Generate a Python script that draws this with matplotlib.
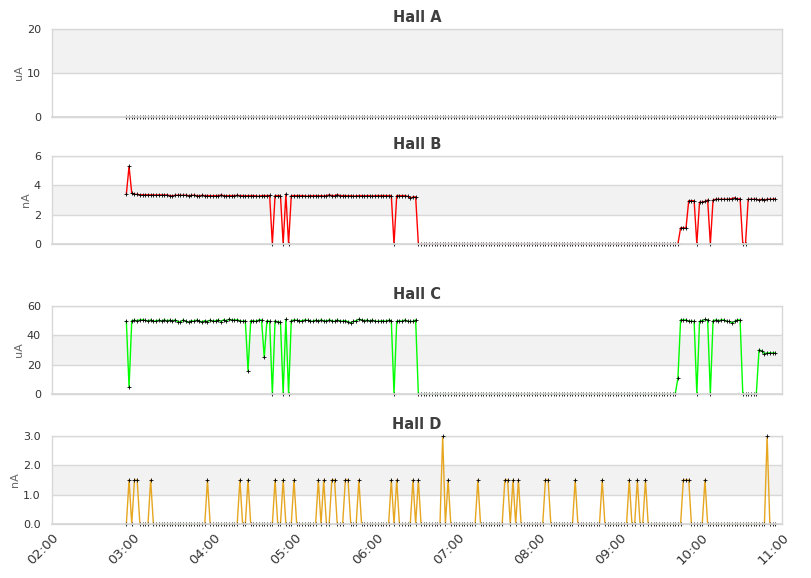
import matplotlib
matplotlib.use("Agg")
import matplotlib.pyplot as plt
import matplotlib.dates as mdates
import pandas as pd

# samples every 2 minutes, 02:55 -> 10:55
times = pd.date_range("2024-01-01 02:55", periods=241, freq="2min")

hall_a = [0.0] * 241

hall_b = ([3.4, 5.3, 3.45,
           3.40, 3.38, 3.36, 3.36, 3.35, 3.36, 3.35, 3.35, 3.34, 3.35,
           3.35, 3.34, 3.35, 3.30, 3.28, 3.32, 3.33, 3.33, 3.32, 3.33,
           3.30, 3.31, 3.33, 3.30, 3.28, 3.32, 3.30, 3.30, 3.30, 3.28,
           3.30, 3.30, 3.34, 3.30, 3.28, 3.30, 3.30, 3.30, 3.32, 3.30,
           3.30, 3.28, 3.30, 3.30, 3.30, 3.28, 3.25, 3.30, 3.30, 3.30, 3.31,
           0, 3.3, 3.3, 3.3, 0, 3.4, 0,
           3.30, 3.30, 3.30, 3.30, 3.30, 3.28, 3.26, 3.30, 3.28, 3.30,
           3.28, 3.30, 3.27, 3.30, 3.35, 3.30, 3.30, 3.36, 3.30, 3.30,
           3.30, 3.28, 3.30, 3.26, 3.28, 3.30, 3.30, 3.28, 3.30, 3.30,
           3.26, 3.30, 3.30, 3.30, 3.30, 3.30, 3.30, 3.30,
           0, 3.3, 3.3, 3.3, 3.3, 3.25, 3.15, 3.2, 3.22]
          + [0.0] * 97
          + [1.1, 1.1, 1.1, 2.95, 2.95, 2.95, 0, 2.85, 2.85, 2.9, 3.0, 0,
             3.0, 3.05, 3.05, 3.05, 3.05, 3.05, 3.05, 3.1, 3.15, 3.05, 3.1,
             0, 0,
             3.05, 3.05, 3.05, 3.05, 3.0, 3.05, 3.0, 3.05, 3.05, 3.05, 3.08])

hall_c = ([49.7, 4.5, 50.0,
           50.3, 50.0, 50.5, 50.6, 50.2, 49.8, 50.5, 49.5, 50.0, 50.3,
           49.6, 50.5, 50.0, 50.3, 49.8, 50.5, 49.4, 49.0, 50.5, 49.5,
           48.8, 50.0, 49.6, 50.4, 49.7, 49.2, 50.0, 49.3, 50.4, 49.5,
           50.0, 50.5, 49.4, 50.6, 49.8, 51.0, 50.3, 50.5, 50.5, 50.0,
           49.5, 50.0,
           16.0, 50.0, 50.0, 49.5, 50.5, 50.5, 25.0, 50.0, 49.5,
           0, 50.0, 49.0, 49.0, 0, 51.0, 0,
           50.0, 50.5, 50.3, 49.8, 50.0, 50.5, 50.2, 49.8, 49.6, 50.3,
           49.8, 50.5, 50.0, 49.7, 50.5, 50.0, 49.5, 50.4, 49.8, 49.7,
           50.0, 49.3, 48.6, 49.5, 50.0, 51.0, 50.5, 50.0, 50.4, 49.8,
           50.4, 49.6, 49.5, 49.8, 50.0, 49.6, 50.3, 50.0,
           0, 49.5, 50.0, 49.5, 50.5, 49.5, 49.5, 49.5, 50.5]
          + [0.0] * 96
          + [10.6, 50.5, 50.5, 50.5, 49.6, 49.6, 49.5, 0,
             49.5, 50.0, 50.8, 50.5, 0,
             50.0, 50.5, 50.0, 50.5, 50.5, 49.5, 49.5, 48.5, 49.5, 50.5, 50.5,
             0, 0, 0, 0, 0, 0,
             30.0, 29.5, 27.5, 28.0, 28.0, 28.0, 28.0])

hall_d = [0, 1.5, 0, 1.5, 1.5, 0, 0, 0, 0, 1.5, 0, 0, 0, 0, 0, 0, 0, 0, 0, 0,
          0, 0, 0, 0, 0, 0, 0, 0, 0, 0, 1.5, 0, 0, 0, 0, 0, 0, 0, 0, 0,
          0, 0, 1.5, 0, 0, 1.5, 0, 0, 0, 0, 0, 0, 0, 0, 0, 1.5, 0, 0, 1.5, 0,
          0, 0, 1.5, 0, 0, 0, 0, 0, 0, 0, 0, 1.5, 0, 1.5, 0, 0, 1.5, 1.5, 0, 0,
          0, 1.5, 1.5, 0, 0, 0, 1.5, 0, 0, 0, 0, 0, 0, 0, 0, 0, 0, 0, 1.5, 0,
          1.5, 0, 0, 0, 0, 0, 1.5, 0, 1.5, 0, 0, 0, 0, 0, 0, 0, 0, 3.0, 0, 1.5,
          0, 0, 0, 0, 0, 0, 0, 0, 0, 0, 1.5, 0, 0, 0, 0, 0, 0, 0, 0, 0,
          1.5, 1.5, 0, 1.5, 0, 1.5, 0, 0, 0, 0, 0, 0, 0, 0, 0, 1.5, 1.5, 0, 0, 0,
          0, 0, 0, 0, 0, 0, 1.5, 0, 0, 0, 0, 0, 0, 0, 0, 0, 1.5, 0, 0, 0,
          0, 0, 0, 0, 0, 0, 1.5, 0, 0, 1.5, 0, 0, 1.5, 0, 0, 0, 0, 0, 0, 0,
          0, 0, 0, 0, 0, 0, 1.5, 1.5, 1.5, 0, 0, 0, 0, 0, 1.5, 0, 0, 0, 0, 0,
          0, 0, 0, 0, 0, 0, 0, 0, 0, 0, 0, 0, 0, 0, 0, 0, 0, 3.0, 0, 0,
          0]

titles = ["Hall A", "Hall B", "Hall C", "Hall D"]
units = ["uA", "nA", "uA", "nA"]
series = [hall_a, hall_b, hall_c, hall_d]
colors = ["#7cb5ec", "#ff0000", "#00ff00", "#e6a620"]
yticks = [[0, 10, 20], [0, 2, 4, 6], [0, 20, 40, 60], [0.0, 1.0, 2.0, 3.0]]
yfmt = ["%d", "%d", "%d", "%.1f"]

# axes boxes in pixels: (top, bottom)
boxes = [(29, 117), (156, 244), (306, 394), (436, 524)]

W, H = 811, 578
fig = plt.figure(figsize=(W / 100, H / 100), dpi=100)

grid_c = "#d8d8d8"
x0 = pd.Timestamp("2024-01-01 02:00")
x1 = pd.Timestamp("2024-01-01 11:00")

for k in range(4):
    top, bot = boxes[k]
    ax = fig.add_axes([52 / W, (H - bot) / H, 730 / W, (bot - top) / H])
    tk = yticks[k]
    ax.set_ylim(tk[0], tk[-1])
    ax.set_xlim(x0, x1)
    ax.axhspan(tk[1], tk[2], color="#f2f2f2", zorder=0, lw=0)
    for t in tk:
        ax.axhline(t, color=grid_c, lw=1, zorder=1)
    ax.plot(times, series[k], color=colors[k], lw=1, zorder=2)
    ax.plot(times, series[k], ls="none", marker="+", ms=2.6, mew=0.6,
            color="black", zorder=3, clip_on=False)
    # zero axis line drawn over the series
    ax.axhline(0, color=grid_c, lw=1.3, zorder=4, clip_on=False)

    ax.set_yticks(tk)
    ax.yaxis.set_major_formatter(matplotlib.ticker.FormatStrFormatter(yfmt[k]))
    ax.tick_params(axis="y", length=0, labelsize=8, labelcolor="#333333", pad=8)
    ax.set_ylabel(units[k], fontsize=8, color="#666666", labelpad=2)
    ax.set_title(titles[k], fontsize=10.5, fontweight="bold", color="#3e3e3e", pad=5)
    for s in ax.spines.values():
        s.set_color(grid_c)
        s.set_linewidth(1)

    ax.xaxis.set_major_locator(mdates.HourLocator())
    ax.xaxis.set_major_formatter(mdates.DateFormatter("%H:%M"))
    if k < 3:
        ax.tick_params(axis="x", length=0, labelbottom=False)
    else:
        ax.tick_params(axis="x", length=0, labelsize=9.5, labelcolor="#333333", pad=5)
        for lbl in ax.get_xticklabels():
            lbl.set_rotation(45)
            lbl.set_ha("right")
            lbl.set_rotation_mode("anchor")

fig.savefig("out.png", dpi=100)
